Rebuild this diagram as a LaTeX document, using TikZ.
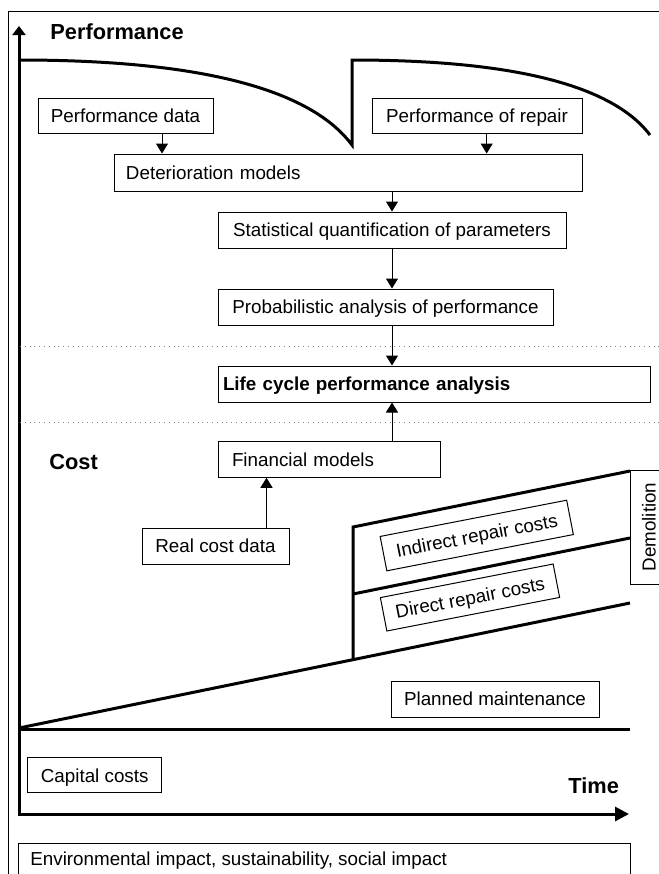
\documentclass[tikz,border=0pt]{standalone}
\usepackage{fontspec}
\setmainfont{Liberation Sans}
\usetikzlibrary{arrows.meta}
\begin{document}
\begin{tikzpicture}[x=0.5pt,y=-0.5pt,
  texte/.style={font=\fontsize{9.4}{11}\selectfont},
  boite/.style={draw,line width=0.5pt,inner sep=0pt,text height=6.74pt,text depth=0pt,texte},
  fleche/.style={line width=0.5pt,-{Triangle[length=5pt,width=6pt]}},
  epais/.style={line width=1.5pt},
  titre/.style={font=\fontsize{10.9}{13}\selectfont\bfseries,anchor=base west,inner sep=0pt}]
\useasboundingbox (0,0) rectangle (659,874);
\draw[line width=0.5pt] (659,11) -- (8,11) -- (8,874);
\draw[epais,{Triangle[length=4.5pt,width=6.5pt]}-{Triangle[length=7pt,width=7pt]}] (19,26) -- (19,814) -- (629,814);%axes
% performance
\node[titre] (lperf) at (50,39) {Performance};
\draw[epais] (19,60) .. controls (150,60) and (300,75) .. (352,145) -- (352,60) .. controls (469,60) and (603,73) .. (650,135);
\node[boite,minimum width=87.5pt,minimum height=17.5pt] (pdata) at (125.5,115.5) {Performance data};
\node[boite,minimum width=105pt,minimum height=17.5pt] (prep) at (477,115.5) {Performance of repair};
\node[boite,text width=222pt,inner xsep=6pt,minimum height=18.5pt,align=left] (detmod) at (348,172.5) {Deterioration models};
\node[boite,minimum width=174pt,minimum height=18pt] (stat) at (392,230) {Statistical quantification of parameters};
\node[boite,minimum width=167.5pt,minimum height=18pt] (prob) at (385.5,307) {Probabilistic analysis of performance};
\draw[dotted,gray,line width=0.4pt] (20,346) -- (659,346) (20,422) -- (659,422);
\node[boite,text width=211pt,inner xsep=2.5pt,minimum height=18pt,align=left] (life) at (434,384) {\textbf{Life cycle performance analysis}};
\draw[fleche] ([xshift=18.25pt]pdata.south) -- ([xshift=18.25pt]pdata.south |- detmod.north);
\draw[fleche] ([xshift=4.85pt]prep.south) -- ([xshift=4.85pt]prep.south |- detmod.north);
\draw[fleche] (detmod.south -| stat.north) -- (stat.north);
\draw[fleche] (stat.south) -- (stat.south |- prob.north);
\draw[fleche] (stat.south |- prob.south) -- (stat.south |- life.north);
% cost
\node[titre] (lcost) at (49,469) {Cost};
\node[boite,text width=97pt,inner xsep=7pt,minimum height=17.75pt,align=left] (fin) at (329,459.5) {Financial models};
\node[boite,minimum width=73.5pt,minimum height=18pt] (real) at (215.5,546) {Real cost data};
\draw[fleche] (stat.south |- fin.north) -- (stat.south |- life.south);
\draw[fleche] ([xshift=25.5pt]real.north) -- ([xshift=25.5pt]real.north |- fin.south);
\draw[epais] (19,729) -- (630,729);
\draw[epais] (19,728) -- (630,603);
\draw[epais] (630,471) -- (353,527) -- (353,659.5);
\draw[epais] (353,594) -- (630,538);
\node[boite,rotate=11,minimum width=95pt,minimum height=17.5pt] (indir) at (476.75,535.5) {Indirect repair costs};
\node[boite,rotate=11,minimum width=88pt,minimum height=17pt] (dir) at (470,597.5) {Direct repair costs};
\draw[line width=0.5pt] (659,470) -- (630,470) -- (630,584) -- (659,584);
\node[texte,rotate=90,inner sep=0pt] (demol) at (649,527) {Demolition};
\node[boite,minimum width=104pt,minimum height=18pt] (plan) at (495,699) {Planned maintenance};
\node[boite,minimum width=67pt,minimum height=17.5pt] (capital) at (94.7,775.3) {Capital costs};
\node[titre] (ltime) at (568,793) {Time};
\draw[line width=0.5pt] (18,874) -- (18,843) -- (630,843) -- (630,874);
\node[texte,anchor=base west,inner sep=0pt] (env) at (30,865) {Environmental impact, sustainability, social impact};
\end{tikzpicture}
\end{document}
